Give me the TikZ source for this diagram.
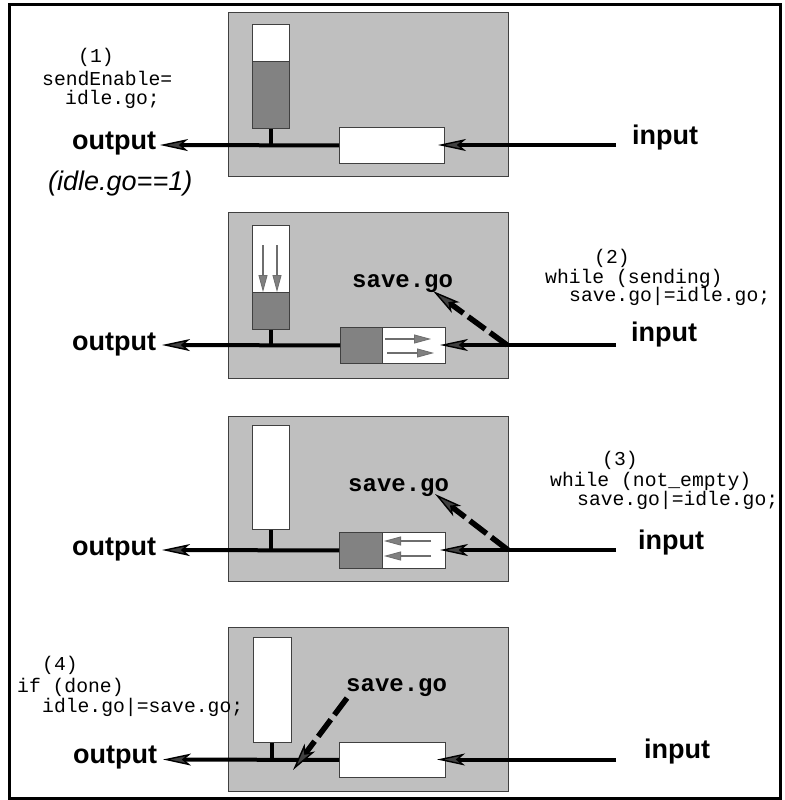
\documentclass[tikz,border=0pt]{standalone}
\usepackage{fontspec}
\setmainfont{Liberation Sans}
\setmonofont{Liberation Mono}
\usetikzlibrary{arrows.meta}
\definecolor{panelgray}{HTML}{BFBFBF}
\definecolor{darkfill}{HTML}{828282}
\definecolor{edgegray}{HTML}{404040}
\definecolor{arrgray}{HTML}{6E6E6E}
\begin{document}
\begin{tikzpicture}[x=1pt,y=-1pt,
  panel/.style={draw=edgegray,fill=panelgray,line width=0.9pt,inner sep=0pt,anchor=north west},
  wbox/.style={draw=edgegray,fill=white,line width=0.9pt,inner sep=0pt,anchor=north west},
  dbox/.style={draw=edgegray,fill=darkfill,line width=0.9pt,inner sep=0pt,anchor=north west},
  wire/.style={line width=4pt},
  bigtip/.style={-{Stealth[length=28pt,width=12pt,inset=7pt,fill=black!75,line width=1.4pt]}},
  dashwire/.style={line width=5.5pt,dash pattern=on 21pt off 6pt,
    -{Stealth[length=28pt,width=13pt,inset=7pt,fill=black!75,line width=1.4pt]}},
  garrow/.style={draw=arrgray,line width=1.5pt,-{Triangle[length=17pt,width=9pt,fill=black!50,line width=0.8pt]}},
  io/.style={font=\bfseries\fontsize{27}{30}\selectfont,anchor=base west,inner sep=0pt},
  cond/.style={font=\itshape\fontsize{27}{30}\selectfont,anchor=base west,inner sep=0pt},
  code/.style={font=\ttfamily\fontsize{19.7}{22}\selectfont,anchor=base west,inner sep=0pt},
  sg/.style={font=\ttfamily\bfseries\fontsize{24}{26}\selectfont,anchor=base west,inner sep=0pt}]
\useasboundingbox (0,0) rectangle (784,800);
\fill[white] (0,0) rectangle (784,800);
\draw[line width=3pt] (9,5) rectangle (780,798);

% ---------- panel 1 ----------
\node[panel,minimum width=280pt,minimum height=164pt] (pan1) at (228,12) {};
\node[wbox,minimum width=37pt,minimum height=37pt] (bar1t) at (252,24) {};
\node[dbox,minimum width=37pt,minimum height=67pt] (bar1b) at (252,61) {};
\node[wbox,minimum width=105pt,minimum height=36pt] (box1) at (339,127) {};
\coordinate (o1) at (160,145);
\coordinate (i1s) at (616,145);
\coordinate (i1e) at (438,145);
\draw[wire] (bar1b.south) -- (bar1b.south |- box1.west);
\draw[wire,bigtip] (box1.west) -- (o1);
\draw[wire,bigtip] (i1s) -- (i1e);
\node[io] (out1) at (72,149) {output};
\node[io] (in1) at (632,144) {input};
\node[cond] (cnd1) at (48,190) {(idle.go==1)};
\node[code] (c1a) at (78,63) {(1)};
\node[code] (c1b) at (42,85) {sendEnable=};
\node[code] (c1c) at (65,104) {idle.go;};

% ---------- panel 2 ----------
\node[panel,minimum width=280pt,minimum height=166pt] (pan2) at (228,212) {};
\node[wbox,minimum width=37pt,minimum height=67pt] (bar2t) at (252,225) {};
\node[dbox,minimum width=37pt,minimum height=37pt] (bar2b) at (252,292) {};
\node[dbox,minimum width=42pt,minimum height=36pt] (box2d) at (340,327) {};
\node[wbox,minimum width=63pt,minimum height=36pt] (box2w) at (382,327) {};
\coordinate (o2) at (162,345);
\coordinate (i2s) at (616,345);
\coordinate (i2e) at (440,345);
\coordinate (d2s) at (507,345);
\coordinate (d2e) at (433,291);
\coordinate (v2as) at (263,245);
\coordinate (v2ae) at (263,292);
\coordinate (v2bs) at (277,245);
\coordinate (v2be) at (277,292);
\coordinate (h2as) at (385,339);
\coordinate (h2ae) at (431,339);
\coordinate (h2bs) at (387,353);
\coordinate (h2be) at (434,353);
\draw[wire] (bar2b.south) -- (bar2b.south |- box2d.west);
\draw[wire,bigtip] (box2d.west) -- (o2);
\draw[garrow] (v2as) -- (v2ae);
\draw[garrow] (v2bs) -- (v2be);
\draw[garrow] (h2as) -- (h2ae);
\draw[garrow] (h2bs) -- (h2be);
\draw[wire,bigtip] (i2s) -- (i2e);
\draw[dashwire] (d2s) -- (d2e);
\node[io] (out2) at (72,350) {output};
\node[io] (in2) at (631,341) {input};
\node[sg] (sg2) at (352,287) {save.go};
\node[code] (c2a) at (594,263) {(2)};
\node[code] (c2b) at (545,283) {while (sending)};
\node[code] (c2c) at (569,301) {save.go|=idle.go;};

% ---------- panel 3 ----------
\node[panel,minimum width=280pt,minimum height=165pt] (pan3) at (228,416) {};
\node[wbox,minimum width=37pt,minimum height=104pt] (bar3) at (252,425) {};
\node[dbox,minimum width=43pt,minimum height=36pt] (box3d) at (339,532) {};
\node[wbox,minimum width=63pt,minimum height=36pt] (box3w) at (382,532) {};
\coordinate (o3) at (162,550);
\coordinate (i3s) at (616,550);
\coordinate (i3e) at (440,550);
\coordinate (d3s) at (508,550);
\coordinate (d3e) at (435,494);
\coordinate (h3as) at (431,541);
\coordinate (h3ae) at (384,541);
\coordinate (h3bs) at (431,556);
\coordinate (h3be) at (384,556);
\draw[wire] (bar3.south) -- (bar3.south |- box3d.west);
\draw[wire,bigtip] (box3d.west) -- (o3);
\draw[garrow] (h3as) -- (h3ae);
\draw[garrow] (h3bs) -- (h3be);
\draw[wire,bigtip] (i3s) -- (i3e);
\draw[dashwire] (d3s) -- (d3e);
\node[io] (out3) at (72,555) {output};
\node[io] (in3) at (638,549) {input};
\node[sg] (sg3) at (348,491) {save.go};
\node[code] (c3a) at (602,465) {(3)};
\node[code] (c3b) at (550,486) {while (not\_empty)};
\node[code] (c3c) at (577,505) {save.go|=idle.go;};

% ---------- panel 4 ----------
\node[panel,minimum width=280pt,minimum height=164pt] (pan4) at (228,627) {};
\node[wbox,minimum width=38pt,minimum height=105pt] (bar4) at (253,637) {};
\node[wbox,minimum width=106pt,minimum height=35pt] (box4) at (339,742) {};
\coordinate (o4) at (163,759.5);
\coordinate (i4s) at (616,759.5);
\coordinate (i4e) at (437,759.5);
\coordinate (d4s) at (347,698);
\coordinate (d4e) at (293,770);
\draw[wire] (bar4.south) -- (bar4.south |- box4.west);
\draw[wire,bigtip] (box4.west) -- (o4);
\draw[wire,bigtip] (i4s) -- (i4e);
\draw[dashwire] (d4s) -- (d4e);
\node[io] (out4) at (73,763) {output};
\node[io] (in4) at (644,758) {input};
\node[sg] (sg4) at (346,691) {save.go};
\node[code] (c4a) at (42,670) {(4)};
\node[code] (c4b) at (17,692) {if (done)};
\node[code] (c4c) at (42,712) {idle.go|=save.go;};
\end{tikzpicture}
\end{document}
